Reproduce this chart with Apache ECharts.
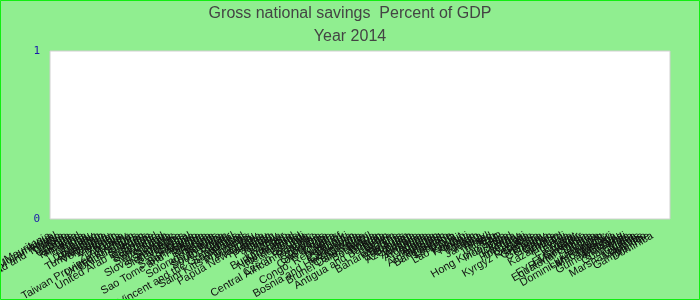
<!DOCTYPE html>
<html><head><meta charset="utf-8">
<script src="https://cdn.jsdelivr.net/npm/echarts@6/dist/echarts.min.js"></script>
<style>html,body{margin:0;padding:0;background:#90EE90}#c{width:700px;height:300px}</style>
</head><body><div id="c"></div>
<script>
const titleText = 'Gross national savings  Percent of GDP';
const subTitle = 'Year 2014';
const categories = [
'Mauritania','Mozambique','Nepal','Trinidad and Tobago','Tunisia','Togo','Uganda','Ukraine','Tanzania','Thailand',
'Estonia','Tonga','Tuvalu','Uruguay','Uzbekistan','Tajikistan','Turkmenistan','Venezuela','Vanuatu','Vietnam',
'Yemen','Zambia','Zimbabwe','Turkey','Taiwan Province of China','United Kingdom','United States','Syria','Sweden','United Arab Emirates',
'Sudan','Suriname','Swaziland','Sri Lanka','Switzerland','Spain','Slovenia','Slovak Republic','Singapore','Sierra Leone',
'Seychelles','Serbia','Senegal','Saudi Arabia','San Marino','Sao Tome and Principe','Samoa','Rwanda','Russia','Romania',
'Solomon Islands','Somalia','South Africa','South Sudan','Qatar','Portugal','Saint Vincent and the Grenadines','Saint Lucia','Poland','Saint Kitts and Nevis',
'Philippines','Peru','Paraguay','Papua New Guinea','Panama','Palau','Pakistan','Oman','Norway','Nigeria',
'Niger','Burkina Faso','Nicaragua','New Zealand','Netherlands','Chad','Burundi','Chile','Czech Republic','Central African Republic',
'China','Colombia','Comoros','Costa Rica',"Cote d'Ivoire",'Croatia','Cyprus','Congo, Republic of','Denmark','Djibouti',
'Cambodia','Cameroon','Bosnia and Herzegovina','Canada','Cabo Verde','Brunei Darussalam','Brazil','Botswana','Bolivia','Bhutan',
'Antigua and Barbuda','Benin','Belize','Belgium','Bahamas, The','Belarus','Barbados','Bahrain','Azerbaijan','Austria',
'Australia','Armenia','Argentina','Angola','Algeria','Albania','Afghanistan','Bulgaria','Bangladesh','Lesotho',
'Lebanon','Latvia','Lao P.D.R.','Kuwait','Kosovo','Kiribati','Kenya','Jordan','Japan','Jamaica',
'Italy','Israel','Ireland','Iraq','Iran','Hong Kong SAR','Indonesia','India','Iceland','Korea',
'Hungary','Honduras','Haiti','Guyana','Kyrgyz Republic','Greece','Grenada','Ghana','Germany','Georgia',
'Gabon','France','Kazakhstan','Finland','Fiji','Ethiopia','Eritrea','Egypt','Ecuador','El Salvador',
'FYR Macedonia','Equatorial Guinea','Liberia','Libya','Lithuania','Luxembourg','Dominican Republic','Madagascar','Malawi','Malaysia',
'Guinea-Bissau','Maldives','Mali','Guatemala','Malta','Guinea','Marshall Islands','Mauritius','Mexico','Gambia, The',
'Dominica'
];
const values = [];
const yTicks = [0, 1];

const chart = echarts.init(document.getElementById('c'), null, {renderer: 'canvas'});
chart.setOption({
  backgroundColor: '#90EE90',
  animation: false,
  title: {
    text: titleText + '\n' + subTitle,
    left: 'center', top: 0, padding: [2, 5],
    textStyle: {fontFamily: 'Liberation Sans, Arial, sans-serif', fontSize: 16, fontWeight: 'normal', color: '#444', lineHeight: 23}
  },
  graphic: [{type: 'rect', shape: {x: 0.5, y: 0.5, width: 699, height: 299}, style: {fill: 'none', stroke: '#11ee11', lineWidth: 1}, silent: true, z: 100}],
  grid: [
    {left: 50, right: 30, top: 51, bottom: 81, show: true, backgroundColor: '#ffffff', borderColor: '#d0d0d0', borderWidth: 1, containLabel: false, outerBoundsMode: 'none'},
    {left: 48, right: 46, top: 51, bottom: 81, containLabel: false, outerBoundsMode: 'none'}
  ],
  xAxis: [
    {gridIndex: 0, type: 'category', data: categories, show: false},
    {gridIndex: 1, type: 'category', data: categories, axisLine: {show: false}, axisTick: {show: false},
     axisLabel: {interval: 0, rotate: 30, margin: 16, fontSize: 11, color: '#111', fontFamily: 'Liberation Sans, Arial, sans-serif'}}
  ],
  yAxis: [
    {gridIndex: 0, type: 'value', min: yTicks[0], max: yTicks[1], interval: 1, splitLine: {show: false}, axisLine: {show: false}, axisTick: {show: false},
     axisLabel: {color: '#1a1aaa', fontSize: 11, fontFamily: 'DejaVu Sans Mono, monospace', margin: 10}},
    {gridIndex: 1, type: 'value', min: 0, max: 1, show: false}
  ],
  series: [{type: 'bar', xAxisIndex: 0, yAxisIndex: 0, data: values}]
});
</script></body></html>
